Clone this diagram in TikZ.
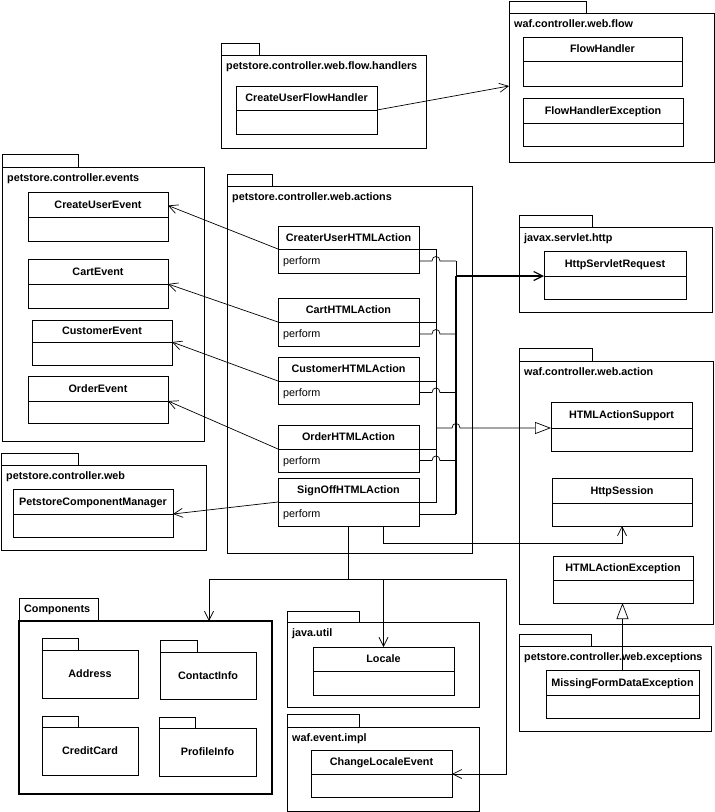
\documentclass[tikz,border=0pt]{standalone}
\usepackage{fontspec}
\setmainfont{Liberation Sans}
\usetikzlibrary{arrows.meta,fit,calc}
\tikzset{
  clsbox/.style={draw=black, line width=0.8pt, inner sep=0pt, outer sep=0pt},
  pkgbox/.style={draw=black, line width=0.8pt, inner sep=0pt, outer sep=0pt},
  cmpbox/.style={draw=black, line width=1.2pt, inner sep=0pt, outer sep=0pt},
  divline/.style={line width=0.8pt},
  boldtext/.style={font=\fontsize{10.8}{12}\selectfont\bfseries, inner sep=0pt, text height=7.8pt, text depth=2.3pt},
  plaintext/.style={font=\fontsize{10.8}{12}\selectfont, inner sep=0pt, text height=7.8pt, text depth=2.3pt},
  wire/.style={line width=0.7pt},
  heavywire/.style={line width=1.2pt},
  dep/.style={line width=0.7pt, -{Straight Barb[length=9pt,width=9pt]}},
  gen/.style={line width=0.7pt, -{Triangle[open,length=16pt,width=12pt]}},
}
\newcommand\umlcls[7]{%
  \node[clsbox, fit={(#2,#3) (#4,#6)}] (#1) {};
  \coordinate (#1-dw) at (#2,#5);
  \coordinate (#1-de) at (#4,#5);
  \draw[divline] (#1-dw) -- (#1-de);
  \node[boldtext] (#1-name) at ({(#2+#4)/2},{(#3+#5)/2+1}) {#7};
}
\newcommand\umlclsop[8]{%
  \umlcls{#1}{#2}{#3}{#4}{#5}{#6}{#7}%
  \coordinate (#1-ope) at (#4,{(#5+#6)/2});
  \node[plaintext, anchor=west] (#1-op) at (#2+5,{(#5+#6)/2+1}) {#8};
}
\newcommand\umlpkg[8]{%
  \node[pkgbox, fit={(#2,#3) (#4,#5)}] (#1-tab) {};
  \node[pkgbox, fit={(#2,#5) (#6,#7)}] (#1) {};
  \node[boldtext, anchor=west] (#1-label) at (#2+5,#5+12) {#8};
}
\newcommand\innerpkg[8]{%
  \node[pkgbox, fit={(#2,#3) (#4,#5)}] (#1-tab) {};
  \node[pkgbox, fit={(#2,#5) (#6,#7)}] (#1) {};
  \node[boldtext] (#1-label) at ($(#1.center)+(0,1)$) {#8};
}
\newcommand\hopbranch[1]{%
  \draw[wire] (#1-ope) -- ($(#1-ope -| busA)+(-4,0)$) .. controls +(0,-6) and +(0,-6) .. ($(#1-ope -| busA)+(4,0)$) -- (#1-ope -| busB);
}
\begin{document}
\begin{tikzpicture}[x=1pt,y=-1pt]
\useasboundingbox (0,0) rectangle (715,812);

% packages
\umlpkg{pfh}{221}{43}{259}{55}{426}{148}{petstore.controller.web.flow.handlers}
\umlpkg{wfl}{509}{1}{586}{13}{714}{162}{waf.controller.web.flow}
\umlpkg{pev}{2}{154}{78}{167}{204}{441}{petstore.controller.events}
\umlpkg{pwa}{227}{174}{272}{186}{472}{553}{petstore.controller.web.actions}
\umlpkg{jsh}{519}{215}{592}{227}{712}{312}{javax.servlet.http}
\umlpkg{wwa}{519}{348}{592}{361}{713}{624}{waf.controller.web.action}
\umlpkg{pw}{1}{453}{78}{465}{206}{550}{petstore.controller.web}
\umlpkg{pwe}{519}{634}{591}{646}{711}{731}{petstore.controller.web.exceptions}
\umlpkg{ju}{287}{611}{359}{622}{479}{707}{java.util}
\umlpkg{wei}{287}{714}{359}{727}{479}{811}{waf.event.impl}

% Components package
\node[pkgbox, fit={(19,598) (98,621)}] (comp-tab) {};
\node[cmpbox, fit={(19,621) (272,794)}] (comp) {};
\node[boldtext, anchor=west] (comp-label) at (24,610) {Components};
\innerpkg{addr}{42}{638}{78}{650}{138}{698}{Address}
\innerpkg{cinfo}{160}{640}{197}{652}{256}{699}{ContactInfo}
\innerpkg{ccard}{42}{716}{78}{727}{138}{775}{CreditCard}
\innerpkg{pinfo}{159}{717}{195}{728}{256}{776}{ProfileInfo}

% classes
\umlcls{flowh}{236}{86}{377}{110}{134}{CreateUserFlowHandler}
\umlcls{flowhandler}{523}{37}{682}{61}{86}{FlowHandler}
\umlcls{flowexc}{523}{98}{683}{123}{146}{FlowHandlerException}
\umlcls{cue}{28}{192}{168}{217}{241}{CreateUserEvent}
\umlcls{carte}{28}{259}{168}{284}{308}{CartEvent}
\umlcls{custe}{32}{320}{172}{342}{365}{CustomerEvent}
\umlcls{ordere}{28}{376}{168}{401}{423}{OrderEvent}
\umlclsop{cua}{278}{226}{419}{249}{273}{CreaterUserHTMLAction}{perform}
\umlclsop{carta}{278}{298}{419}{322}{346}{CartHTMLAction}{perform}
\umlclsop{custa}{278}{357}{419}{381}{404}{CustomerHTMLAction}{perform}
\umlclsop{ordera}{278}{425}{419}{449}{472}{OrderHTMLAction}{perform}
\umlclsop{signa}{278}{478}{419}{502}{526}{SignOffHTMLAction}{perform}
\umlcls{pcm}{13}{489}{173}{514}{537}{PetstoreComponentManager}
\umlcls{hsr}{544}{251}{686}{276}{299}{HttpServletRequest}
\umlcls{has}{551}{402}{692}{428}{451}{HTMLActionSupport}
\umlcls{hses}{552}{478}{692}{503}{526}{HttpSession}
\umlcls{hae}{553}{556}{693}{580}{603}{HTMLActionException}
\umlcls{mfde}{546}{670}{699}{695}{718}{MissingFormDataException}
\umlcls{locale}{313}{647}{454}{671}{695}{Locale}
\umlcls{cle}{311}{750}{452}{774}{797}{ChangeLocaleEvent}

% connectors
\draw[dep] (flowh-de) -- (wfl.west |- flowhandler.south);

\draw[dep] (cua-dw) -- (cue-name -| cue.east);
\draw[dep] (carta-dw) -- (carte-de);
\draw[dep] (custa-dw) -- (custe-de);
\draw[dep] (ordera-dw) -- (ordere-de);
\draw[dep] (signa-dw) -- (pcm-de);

\coordinate (busA) at (436,0);
\coordinate (busB) at (456,0);

% generalization bus
\draw[wire] (cua-de) -- (cua-de -| busA) -- (signa-de -| busA) -- (signa-de);
\draw[wire] (carta-de) -- (carta-de -| busA);
\draw[wire] (custa-de) -- (custa-de -| busA);
\draw[wire] (ordera-de) -- (ordera-de -| busA);

% perform bus
\hopbranch{cua}
\hopbranch{carta}
\hopbranch{custa}
\hopbranch{ordera}
\draw[wire] (signa-ope) -- (signa-ope -| busB);
\draw[wire] (cua-ope -| busB) -- (hsr-dw -| busB);
\draw[heavywire] (hsr-dw -| busB) -- (signa-ope -| busB);
\draw[heavywire, -{Straight Barb[length=9pt,width=9pt]}] (hsr-dw -| busB) -- (hsr-dw);

\draw[gen] (has-dw -| busA) -- ($(has-dw -| busB)+(-4,0)$) .. controls +(0,-6) and +(0,-6) .. ($(has-dw -| busB)+(4,0)$) -- (has-dw);

\draw[dep] ($(signa.south west)+(105,0)$) -- ++(0,17) -| (hses.south);

\draw[wire] (signa.south) -- ++(0,53) coordinate (jn);
\draw[dep] (jn) -| ($(comp.north west)+(190,0)$);
\draw[dep] (jn) -| (locale.north);
\draw[dep] (jn) -- ++(157.5,0) |- (cle-de);

\draw[gen] (mfde.north) -- (mfde.north |- hae.south);
\end{tikzpicture}
\end{document}
